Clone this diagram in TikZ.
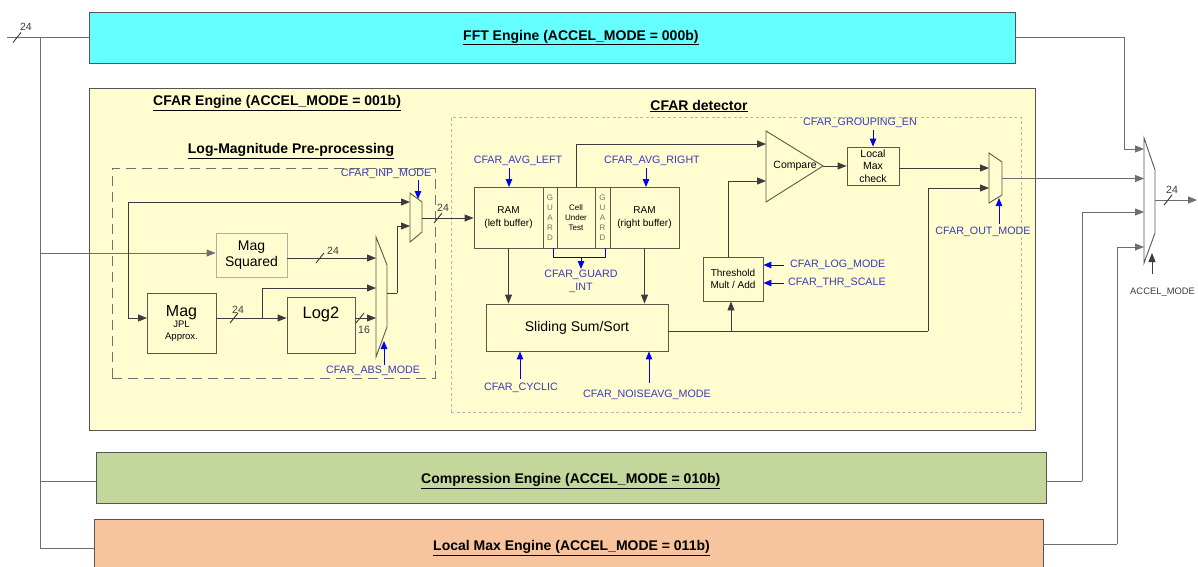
\documentclass[tikz,border=0pt]{standalone}
\usepackage{fontspec}
\setmainfont{Liberation Sans}
\usetikzlibrary{arrows.meta,calc}
\newcommand\fsz[2]{\fontsize{#1}{#2}\selectfont}
\definecolor{fftcol}{HTML}{66FFFF}
\definecolor{cfarbg}{HTML}{FFFDD0}
\definecolor{compcol}{HTML}{C3D69B}
\definecolor{lmaxcol}{HTML}{F8C49E}
\definecolor{engb}{HTML}{555555}
\definecolor{blkb}{HTML}{5A5A48}
\definecolor{lightb}{HTML}{B0B0A0}
\definecolor{wireg}{HTML}{6E6E6E}
\definecolor{wired}{HTML}{3C3C3C}
\definecolor{ctlblue}{HTML}{0000F0}
\definecolor{ctltext}{HTML}{3A3AB8}
\definecolor{dashc}{HTML}{707070}
\definecolor{detdash}{HTML}{B8B8A8}
\begin{document}
\begin{tikzpicture}[x=1pt,y=-1pt,
  owire/.style={draw=wireg, line width=0.9pt},
  iwire/.style={draw=wired, line width=0.9pt},
  oarr/.style={owire,-{Triangle[length=9pt,width=7pt]}},
  iarr/.style={iwire,-{Triangle[length=9pt,width=7pt]}},
  ctl/.style={draw=ctlblue, line width=1pt, -{Triangle[length=8pt,width=6.5pt]}},
  ctltxt/.style={text=ctltext, font=\fsz{10.7}{13}, inner sep=0pt, align=center},
  title/.style={font=\fsz{14}{16}\bfseries, inner sep=0pt},
  engine/.style={draw=engb, line width=0.9pt, inner sep=0pt},
  blk/.style={draw=blkb, fill=cfarbg, line width=0.9pt, inner sep=0pt, align=center},
  muxs/.style={draw=blkb, line width=0.9pt},
  numtxt/.style={font=\fsz{10.5}{12}, inner sep=0pt, text=wired},
  bus/.pic={\draw[iwire] (-4,5) -- (4,-5);}
]
\clip (0,0) rectangle (1198,566);
\fill[white] (0,0) rectangle (1198,566);

% ---------- engines ----------
\node[engine, fill=fftcol, minimum width=926pt, minimum height=51pt] (fft) at (552,37.5) {};
\node[title, anchor=west] (fftt) at (463,37.5) {\underline{FFT Engine (ACCEL\_MODE = 000b)}};
\node[engine, fill=cfarbg, minimum width=946pt, minimum height=342pt] (cfar) at (562,259) {};
\node[title, anchor=west] (cfart) at (153,103) {\underline{CFAR Engine (ACCEL\_MODE = 001b)}};
\node[engine, fill=compcol, minimum width=950pt, minimum height=51pt] (comp) at (571,477.5) {};
\node[title, anchor=west] (compt) at (421,481) {\underline{Compression Engine (ACCEL\_MODE = 010b)}};
\node[engine, fill=lmaxcol, minimum width=949pt, minimum height=81pt] (lmax) at (568.5,559.5) {};
\node[title, anchor=west] (lmaxt) at (433,548) {\underline{Local Max Engine (ACCEL\_MODE = 011b)}};

% ---------- sub-areas ----------
\node[draw=dashc, dash pattern=on 10pt off 6pt, line width=1pt, minimum width=323pt, minimum height=210pt] (logbox) at (273.5,273) {};
\node[title] (logt) at (291,151) {\underline{Log-Magnitude Pre-processing}};
\node[draw=detdash, dash pattern=on 3pt off 2.5pt, line width=0.8pt, minimum width=570pt, minimum height=295pt] (det) at (736,264.5) {};
\node[title] (dett) at (699,106) {\underline{CFAR detector}};

% ---------- coordinates ----------
\coordinate (inL) at (7,37.5);
\coordinate (bTop) at (40,37.5);
\coordinate (bBot) at (40,548);
\coordinate (bCmp) at (40,481);
\coordinate (bCf) at (40,253);
\coordinate (sp) at (128,253);
\coordinate (magin) at (147,318);
\coordinate (abs1) at (376,258);
\coordinate (abs2) at (376,288);
\coordinate (abs3) at (376,318);
\coordinate (abso) at (387,293);
\coordinate (absj) at (397,293);
\coordinate (br) at (262,318);
\coordinate (inp1) at (410,202);
\coordinate (inp2) at (410,226);
\coordinate (inpo) at (422,218);
\coordinate (cmp1) at (766,144);
\coordinate (cmp2) at (766,181);
\coordinate (cmpo) at (823,166);
\coordinate (omx1) at (989,168);
\coordinate (omx2) at (989,188);
\coordinate (omxo) at (1002,178.5);
\coordinate (so) at (668,331);
\coordinate (sj) at (928,331);
\coordinate (tb) at (731,331);
\coordinate (tt) at (728,257);
\coordinate (rmx1) at (1144,149);
\coordinate (rmx2) at (1144,178.5);
\coordinate (rmx3) at (1144,212);
\coordinate (rmx4) at (1144,247);
\coordinate (rmxo) at (1155,200);
\coordinate (outR) at (1197,200);
\coordinate (fj) at (1124,37.5);
\coordinate (ce) at (1046,481);
\coordinate (cj) at (1082,481);
\coordinate (le) at (1043,544);
\coordinate (lj) at (1117,544);

% ---------- log-magnitude blocks ----------
\node[blk, draw=lightb, minimum width=71pt, minimum height=44pt, font=\fsz{14}{16}] (magsq) at (251.5,255) {Mag\\Squared};
\node[blk, minimum width=69pt, minimum height=60pt] (mag) at (181.5,323) {\fsz{16}{18}Mag\\[-1pt]\fsz{9.5}{12.5}JPL\\\fsz{9.5}{12.5}Approx.};
\node[blk, minimum width=68pt, minimum height=56pt] (log) at (321,325) {};
\node[font=\fsz{16.5}{18}, inner sep=0pt] (logtx) at (321,314) {Log2};

% ---------- outer wiring ----------
\draw[owire] (inL) -- (fft.west);
\pic at (17,37.5) {bus};
\node[numtxt] (n24in) at (26,27) {24};
\draw[owire] (bTop) -- (bBot) -- (bBot -| lmax.west);
\draw[owire] (bCmp) -- (bCmp -| comp.west);
\draw[oarr] (bCf) -- (bCf -| magsq.west);
\draw[iarr] (sp) |- (inp1);
\draw[iarr] (sp) |- (magin);

\draw[muxs] (376,237) -- (387,265) -- (387,327) -- (376,357) -- cycle;
\draw[muxs] (410,193) -- (422,202) -- (422,232) -- (410,242) -- cycle;

\draw[iarr] (magsq.east |- abs1) -- (abs1);
\pic at (320,258) {bus};
\node[numtxt] (n24a) at (333,251) {24};
\draw[iarr] (mag.east |- abs3) -- (log.west |- abs3);
\pic at (234,318) {bus};
\node[numtxt] (n24b) at (238,310) {24};
\draw[iarr] (br) |- (abs2);
\draw[iarr] (log.east |- abs3) -- (abs3);
\pic at (360,318) {bus};
\node[numtxt] (n16) at (364,330) {16};
\draw[iwire] (abso) -- (absj);
\draw[iarr] (absj) |- (inp2);

% ---------- CFAR detector blocks ----------
\node[blk, minimum width=69pt, minimum height=61pt, font=\fsz{10}{13}] (raml) at (508.5,217.5) {RAM\\(left buffer)};
\node[blk, minimum width=14pt, minimum height=61pt, font=\fsz{8}{10}, text=dashc] (g1) at (550,217.5) {G\\U\\A\\R\\D};
\node[blk, minimum width=38pt, minimum height=61pt, font=\fsz{8}{10}] (cut) at (576,217.5) {Cell\\Under\\Test};
\node[blk, minimum width=15pt, minimum height=61pt, font=\fsz{8}{10}, text=dashc] (g2) at (602.5,217.5) {G\\U\\A\\R\\D};
\node[blk, minimum width=69pt, minimum height=61pt, font=\fsz{10}{13}] (ramr) at (644.5,217.5) {RAM\\(right buffer)};
\node[blk, minimum width=182pt, minimum height=47pt, font=\fsz{14}{16}] (slide) at (577,327.5) {Sliding Sum/Sort};
\node[blk, minimum width=60pt, minimum height=44pt, font=\fsz{10}{12}] (thr) at (733,279) {Threshold\\Mult / Add};
\node[blk, minimum width=52pt, minimum height=38pt, font=\fsz{10.5}{12.5}] (lmc) at (873,166) {Local\\Max\\check};
\draw[muxs, fill=cfarbg] (766,131) -- (cmpo) -- (766,202) -- cycle;
\node[font=\fsz{10.5}{12}, inner sep=0pt] (cmp) at (795,166) {Compare};
\draw[muxs] (989,153) -- (1002,162) -- (1002,195) -- (989,203) -- cycle;

\draw[iarr] (inpo) -- (raml.west |- inpo);
\pic at (438,218) {bus};
\node[numtxt] (n24c) at (443,208) {24};
\draw[iarr] (raml.south) -- (raml.south |- slide.north);
\draw[iarr] (ramr.south) -- (ramr.south |- slide.north);
\draw[iarr] (cut.north) |- (cmp1);
\draw[iarr] (cmpo) -- (lmc.west);
\draw[iarr] (lmc.east |- omx1) -- (omx1);
\draw[iwire] (so) -- (sj);
\draw[iarr] (sj) |- (omx2);
\draw[iarr] (tb) -- (tb |- thr.south);
\draw[iarr] (tt) |- (cmp2);

% ---------- blue controls ----------
\node[ctltxt] (cAvgL) at (518,161) {CFAR\_AVG\_LEFT};
\draw[ctl] (509,168) -- (509,187);
\node[ctltxt] (cAvgR) at (652,161) {CFAR\_AVG\_RIGHT};
\draw[ctl] (646,168) -- (646,187);
\draw[draw=ctlblue, line width=1pt] (553,248) -- (553,257) -- (605,257) -- (605,248);
\draw[ctl] (581,257) -- (581,269);
\node[ctltxt] (cGuard) at (581,281.5) {CFAR\_GUARD\\\_INT};
\node[ctltxt] (cCyc) at (521,388) {CFAR\_CYCLIC};
\draw[ctl] (520,379) -- (slide.south -| 520,0);
\node[ctltxt] (cNoise) at (647,395) {CFAR\_NOISEAVG\_MODE};
\draw[ctl] (649,383) -- (slide.south -| 649,0);
\node[ctltxt, anchor=west] (cLog) at (790,265) {CFAR\_LOG\_MODE};
\draw[ctl] (cLog.west) ++(-6,0) -- (thr.east |- 0,265);
\node[ctltxt, anchor=west] (cThr) at (788,283) {CFAR\_THR\_SCALE};
\draw[ctl] (cThr.west) ++(-4,0) -- (thr.east |- 0,283);
\node[ctltxt] (cGrp) at (860,123) {CFAR\_GROUPING\_EN};
\draw[ctl] (873,130) -- (lmc.north);
\node[ctltxt] (cOut) at (983,232) {CFAR\_OUT\_MODE};
\draw[ctl] (999,224) -- (999,198);
\node[ctltxt] (cAbs) at (373,371) {CFAR\_ABS\_MODE};
\draw[ctl] (384,365) -- (384,341);
\node[ctltxt] (cInp) at (386,174) {CFAR\_INP\_MODE};
\draw[ctl] (418,180) -- (418,199);

% ---------- right mux ----------
\draw[muxs, draw=engb] (1144,138) -- (1155,170) -- (1155,233) -- (1144,263) -- cycle;
\draw[oarr] (fft.east) -- (fj) |- (rmx1);
\draw[oarr] (omxo) -- (rmx2);
\draw[owire] (ce) -- (cj);
\draw[oarr] (cj) |- (rmx3);
\draw[owire] (le) -- (lj);
\draw[oarr] (lj) |- (rmx4);
\draw[oarr] (rmxo) -- (outR);
\pic at (1168,200) {bus};
\node[numtxt] (n24o) at (1172,190) {24};
\draw[iwire, -{Triangle[length=9pt,width=7pt]}] (1152,274) -- (1152,253);
\node[font=\fsz{9.4}{12}, inner sep=0pt, anchor=west, text=wired] (accel) at (1130,292) {ACCEL\_MODE};
\end{tikzpicture}
\end{document}
